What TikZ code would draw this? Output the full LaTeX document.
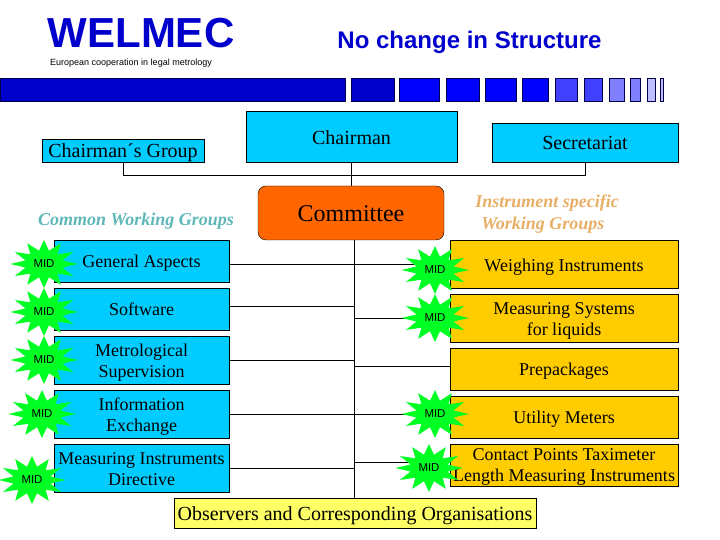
\documentclass[tikz,border=0pt]{standalone}
\usepackage{fontspec}
\setmainfont{Liberation Serif}
\setsansfont{Liberation Sans}
\usetikzlibrary{shapes.geometric, backgrounds}

\definecolor{welblue}{HTML}{0000CC}
\definecolor{boxblue}{HTML}{00CCFF}
\definecolor{boxgold}{HTML}{FFCC00}
\definecolor{boxorange}{HTML}{FF6600}
\definecolor{boxyellow}{HTML}{FFFF66}
\definecolor{burstgreen}{HTML}{00FF22}
\definecolor{commonteal}{HTML}{5FB8B8}
\definecolor{specificsand}{HTML}{E8AE66}

\tikzset{
    boxtext/.style={execute at begin node={\rule{0pt}{#1}}, execute at end node={\rule[-4pt]{0pt}{0pt}}},
    boxtext/.default=17pt,
    bluebox/.style={rectangle, draw, fill=boxblue, align=center, inner sep=0pt, font=\fontsize{18}{21}\selectfont, minimum width=175pt},
    goldbox/.style={rectangle, draw, fill=boxgold, align=center, inner sep=0pt, font=\fontsize{18}{21}\selectfont, minimum width=228pt},
    midstar/.style={star, star points=12, star point ratio=1.75, fill=burstgreen, inner sep=0pt, minimum size=48pt, xscale=1.4, transform shape, font=\sffamily\fontsize{11.5}{12}\selectfont},
    barseg/.style={draw=black!70!blue, line width=0.5pt},
    link/.style={draw, line width=0.7pt}
}
\newcommand{\midlabel}{\scalebox{0.71}[1]{MID}}
\newcommand{\firstline}[1][18.5pt]{\rule{0pt}{#1}}

\begin{document}
\begin{tikzpicture}[x=1pt, y=1pt, node distance=48pt]
    \useasboundingbox (0,0) rectangle (720,540);

    % Heading
    \node (welmec) at (141,507) [text=welblue, font=\sffamily\bfseries\fontsize{42}{42}\selectfont] {WELMEC};
    \node (slogan) at (50,476.5) [anchor=west, inner sep=0pt, font=\sffamily\fontsize{9}{10}\selectfont] {European cooperation in legal metrology};
    \node (title) at (469.5,498) [text=welblue, font=\sffamily\bfseries\fontsize{24}{25}\selectfont] {No change in Structure};

    % Bar below the heading
    \draw[barseg, fill=welblue] (0,462) rectangle (345,439);
    \draw[barseg, fill=welblue] (351,462) rectangle (394,439);
    \draw[barseg, fill=blue] (399,462) rectangle (439,439);
    \draw[barseg, fill=blue] (446,462) rectangle (479,439);
    \draw[barseg, fill=blue] (485,462) rectangle (516,439);
    \draw[barseg, fill=blue] (522,462) rectangle (548,439);
    \draw[barseg, fill=blue!75] (555,462) rectangle (577,439);
    \draw[barseg, fill=blue!75] (584,462) rectangle (602,439);
    \draw[barseg, fill=blue!50] (609,462) rectangle (624,439);
    \draw[barseg, fill=blue!50] (630,462) rectangle (640,439);
    \draw[barseg, fill=blue!25] (647,462) rectangle (655,439);
    \draw[barseg, fill=blue!25] (660,462) rectangle (663,439);

    % Top of the structure
    \node (chairman) at (351.5,403.5) [rectangle, draw, fill=boxblue, boxtext=20pt, minimum width=211pt, minimum height=51pt, font=\fontsize{20}{21}\selectfont] {Chairman};
    \node (secretariat) [rectangle, draw, fill=boxblue, boxtext=19pt, right of=chairman, xshift=185.5pt, yshift=-6pt, minimum width=186pt, minimum height=39pt, font=\fontsize{20}{21}\selectfont] {Secretariat};
    \node (group) at (123,389.5) [rectangle, draw, fill=boxblue, boxtext=19pt, inner sep=0pt, minimum width=162pt, minimum height=23pt, font=\fontsize{20}{21}\selectfont] {Chairman´s Group};
    \node (committee) [rectangle, draw, rounded corners=8pt, fill=boxorange, boxtext=22pt, below of=chairman, xshift=-0.5pt, yshift=-28.5pt, minimum width=186pt, minimum height=54pt, font=\fontsize{24}{26}\selectfont] {Committee};

    % Group headings
    \node (common) at (136,319) [text=commonteal, font=\bfseries\itshape\fontsize{18}{21}\selectfont] {Common Working Groups};
    \node (specific) at (547,326) [text=specificsand, align=left, font=\bfseries\itshape\fontsize{18}{22}\selectfont] {Instrument specific\\\hspace*{6pt}Working Groups};

    % Common working groups
    \node (general) [bluebox, boxtext, below of=group, xshift=18.5pt, yshift=-62.5pt, minimum height=42pt] {General Aspects};
    \node (software) [bluebox, boxtext, below of=general, minimum height=42pt] {Software};
    \node (supervision) [bluebox, below of=software, yshift=-3pt, minimum height=48pt] {\firstline Metrological\\Supervision};
    \node (exchange) [bluebox, below of=supervision, yshift=-6pt, minimum height=48pt] {\firstline Information\\Exchange};
    \node (directive) [bluebox, below of=exchange, yshift=-6pt, minimum height=48pt] {\firstline[14.5pt]Measuring Instruments\\Directive};

    % Instrument specific working groups
    \node (weighing) [goldbox, boxtext=19pt, right of=general, xshift=374.5pt, yshift=-3pt, minimum height=48pt] {Weighing Instruments};
    \node (liquids) [goldbox, below of=weighing, yshift=-6pt, minimum height=48pt] {\firstline Measuring Systems\\for liquids};
    \node (prepack) [goldbox, boxtext, below of=liquids, yshift=-3pt, minimum height=42pt] {Prepackages};
    \node (utility) [goldbox, boxtext, below of=prepack, minimum height=42pt] {Utility Meters};
    \node (contact) [goldbox, below of=utility, minimum height=42pt] {\firstline[16.5pt]Contact Points Taximeter\\Length Measuring Instruments};

    \node (observers) [rectangle, draw, fill=boxyellow, boxtext=19pt, right of=directive, xshift=165.5pt, yshift=-45pt, minimum width=362pt, minimum height=30pt, font=\fontsize{20}{21}\selectfont] {Observers and Corresponding Organisations};

    % MID bursts
    \node (midgeneral) [left of=general, xshift=-49.5pt, yshift=-3pt, midstar] {\midlabel};
    \node (midsoftware) [left of=software, xshift=-49.5pt, yshift=-3pt, midstar] {\midlabel};
    \node (midsupervision) [left of=supervision, xshift=-49.5pt, midstar] {\midlabel};
    \node (midexchange) [left of=exchange, xshift=-51.5pt, midstar] {\midlabel};
    \node (middirective) [left of=directive, xshift=-61.5pt, yshift=-12pt, midstar] {\midlabel};
    \node (midweighing) [left of=weighing, xshift=-81pt, yshift=-6pt, midstar] {\midlabel};
    \node (midliquids) [left of=liquids, xshift=-81pt, midstar] {\midlabel};
    \node (midutility) [left of=utility, xshift=-81pt, yshift=3pt, midstar] {\midlabel};
    \node (midcontact) [left of=contact, xshift=-87pt, yshift=-3pt, midstar] {\midlabel};

    % Connectors
    \coordinate (spine) at ([xshift=3pt]committee.south);
    \coordinate (hub) at ([yshift=-13pt]chairman.south);
    \begin{pgfonlayer}{background}
        \draw[link] (chairman.south) -- (chairman.south |- committee.north);
        \draw[link] (group.south) |- (hub);
        \draw[link] (secretariat.south) |- (hub);
        \draw[link] (spine) -- (spine |- observers.north);

        \draw[link] ([yshift=-3pt]general.east) -- ([yshift=-3pt]general.east -| spine);
        \draw[link] ([yshift=3pt]software.east) -- ([yshift=3pt]software.east -| spine);
        \draw[link] (supervision.east) -- (supervision.east -| spine);
        \draw[link] (exchange.east) -- (exchange.east -| spine);
        \draw[link] (directive.east) -- (directive.east -| spine);

        \draw[link] ([yshift=6pt]midweighing.center) -- ([yshift=6pt]midweighing.center -| spine);
        \draw[link] (midliquids.center) -- (midliquids.center -| spine);
        \draw[link] ([yshift=3pt]prepack.west) -- ([yshift=3pt]prepack.west -| spine);
        \draw[link] (midutility.center) -- (midutility.center -| spine);
        \draw[link] ([yshift=6pt]midcontact.center) -- ([yshift=6pt]midcontact.center -| spine);
    \end{pgfonlayer}

\end{tikzpicture}
\end{document}
